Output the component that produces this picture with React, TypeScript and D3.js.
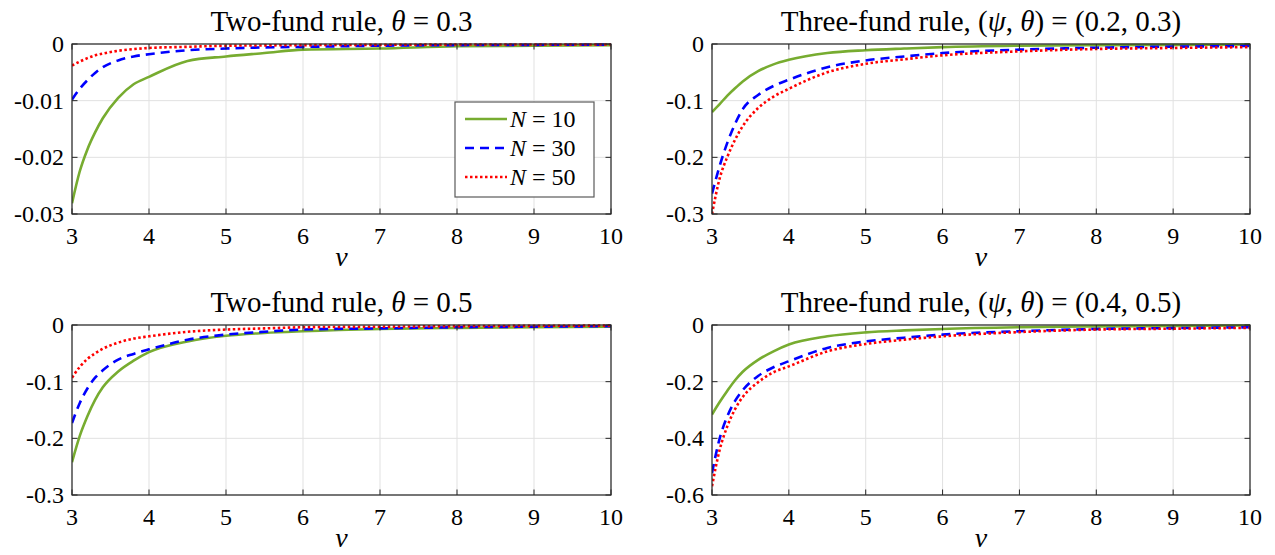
import * as d3 from "d3";

// shared x grid (nu) and tick values
const nu = [3, 3.1, 3.2, 3.3, 3.4, 3.6, 3.8, 4, 4.5, 5, 5.5, 6, 7, 8, 9, 10];
const xTicks = [3, 4, 5, 6, 7, 8, 9, 10];
const legendLabels = ["10", "30", "50"];

// Two-fund rule, theta = 0.3
const two03N10 = [-0.0281, -0.0225, -0.0186, -0.0156, -0.0131, -0.0095, -0.0071, -0.0058, -0.003, -0.0022, -0.0016, -0.001, -0.0008, -0.0004, -0.0003, -0.0002];
const two03N30 = [-0.0098, -0.0079, -0.0064, -0.0051, -0.0041, -0.0029, -0.0022, -0.0018, -0.0011, -0.0008, -0.0006, -0.0005, -0.0003, -0.0002, -0.00015, -0.0001];
const two03N50 = [-0.0038, -0.0031, -0.0025, -0.002, -0.0017, -0.0012, -0.0009, -0.0007, -0.0005, -0.0003, -0.00025, -0.0002, -0.00015, -0.0001, -0.0001, -0.0001];
const two03Ticks = [0, -0.01, -0.02, -0.03];
const two03Labels = ["0", "-0.01", "-0.02", "-0.03"];

// Three-fund rule, (psi, theta) = (0.2, 0.3)
const three03N10 = [-0.12, -0.106, -0.091, -0.078, -0.066, -0.048, -0.036, -0.028, -0.016, -0.011, -0.008, -0.0055, -0.003, -0.002, -0.0015, -0.001];
const three03N30 = [-0.264, -0.215, -0.174, -0.141, -0.115, -0.09, -0.074, -0.063, -0.041, -0.029, -0.022, -0.016, -0.01, -0.0065, -0.0047, -0.0035];
const three03N50 = [-0.3, -0.237, -0.199, -0.169, -0.145, -0.113, -0.093, -0.079, -0.05, -0.035, -0.027, -0.02, -0.013, -0.0088, -0.007, -0.0055];
const three03Ticks = [0, -0.1, -0.2, -0.3];
const three03Labels = ["0", "-0.1", "-0.2", "-0.3"];

// Two-fund rule, theta = 0.5
const two05N10 = [-0.242, -0.196, -0.161, -0.132, -0.11, -0.082, -0.063, -0.048, -0.029, -0.019, -0.014, -0.011, -0.007, -0.005, -0.004, -0.003];
const two05N30 = [-0.173, -0.138, -0.112, -0.093, -0.08, -0.061, -0.051, -0.043, -0.026, -0.017, -0.012, -0.008, -0.006, -0.004, -0.003, -0.002];
const two05N50 = [-0.093, -0.074, -0.06, -0.05, -0.042, -0.031, -0.024, -0.02, -0.012, -0.008, -0.006, -0.004, -0.003, -0.002, -0.0015, -0.001];
const two05Ticks = [0, -0.1, -0.2, -0.3];
const two05Labels = ["0", "-0.1", "-0.2", "-0.3"];

// Three-fund rule, (psi, theta) = (0.4, 0.5)
const three05N10 = [-0.316, -0.272, -0.232, -0.195, -0.165, -0.123, -0.093, -0.069, -0.04, -0.026, -0.019, -0.014, -0.008, -0.005, -0.003, -0.002];
const three05N30 = [-0.522, -0.4, -0.322, -0.268, -0.23, -0.18, -0.149, -0.128, -0.081, -0.058, -0.045, -0.034, -0.022, -0.014, -0.011, -0.008];
const three05N50 = [-0.569, -0.44, -0.357, -0.297, -0.254, -0.202, -0.167, -0.146, -0.093, -0.067, -0.052, -0.04, -0.025, -0.016, -0.013, -0.01];
const three05Ticks = [0, -0.2, -0.4, -0.6];
const three05Labels = ["0", "-0.2", "-0.4", "-0.6"];

const FONT = "'Liberation Serif', 'Times New Roman', serif";
const styles = [
  { color: "#77AC30", dash: "none" },
  { color: "#0000FF", dash: "9,6" },
  { color: "#FF0000", dash: "2.5,2.5" },
];

type Seg = [string, boolean];

const panels = [
  {
    id: "tl", x0: 72, x1: 611, y0: 44, y1: 214,
    title: [["Two-fund rule, ", false], ["θ", true], [" = 0.3", false]] as Seg[],
    series: [two03N10, two03N30, two03N50], ticks: two03Ticks, labels: two03Labels, legend: true,
  },
  {
    id: "tr", x0: 712, x1: 1250, y0: 44, y1: 214,
    title: [["Three-fund rule, (", false], ["ψ", true], [", ", false], ["θ", true], [") = (0.2, 0.3)", false]] as Seg[],
    series: [three03N10, three03N30, three03N50], ticks: three03Ticks, labels: three03Labels, legend: false,
  },
  {
    id: "bl", x0: 72, x1: 611, y0: 325, y1: 495,
    title: [["Two-fund rule, ", false], ["θ", true], [" = 0.5", false]] as Seg[],
    series: [two05N10, two05N30, two05N50], ticks: two05Ticks, labels: two05Labels, legend: false,
  },
  {
    id: "br", x0: 712, x1: 1250, y0: 325, y1: 495,
    title: [["Three-fund rule, (", false], ["ψ", true], [", ", false], ["θ", true], [") = (0.4, 0.5)", false]] as Seg[],
    series: [three05N10, three05N30, three05N50], ticks: three05Ticks, labels: three05Labels, legend: false,
  },
];

function Panel({ p }: { p: (typeof panels)[number] }) {
  const x = d3.scaleLinear().domain([3, 10]).range([p.x0, p.x1]);
  const ticks = p.ticks;
  const y = d3.scaleLinear().domain([ticks[ticks.length - 1], 0]).range([p.y1, p.y0]);
  const line = d3
    .line<number>()
    .x((_, i) => x(nu[i]))
    .y((d) => y(d))
    .curve(d3.curveMonotoneX);
  const tk = 5.5;
  const axisColor = "#262626";
  const cx = (p.x0 + p.x1) / 2;

  return (
    <g>
      <defs>
        <clipPath id={`clip-${p.id}`}>
          <rect x={p.x0} y={p.y0 - 2} width={p.x1 - p.x0} height={p.y1 - p.y0 + 4} />
        </clipPath>
      </defs>
      <rect x={p.x0} y={p.y0} width={p.x1 - p.x0} height={p.y1 - p.y0} fill="#fff" />
      {/* grid */}
      {xTicks.map((t) => (
        <line key={`gx${t}`} x1={x(t)} x2={x(t)} y1={p.y0} y2={p.y1} stroke="#e1e1e1" strokeWidth={1} />
      ))}
      {ticks.map((t) => (
        <line key={`gy${t}`} x1={p.x0} x2={p.x1} y1={y(t)} y2={y(t)} stroke="#e1e1e1" strokeWidth={1} />
      ))}
      {/* series */}
      <g clipPath={`url(#clip-${p.id})`}>
        {p.series.map((s, i) => (
          <path
            key={i}
            d={line(s) ?? ""}
            fill="none"
            stroke={styles[i].color}
            strokeWidth={2.6}
            strokeDasharray={styles[i].dash}
          />
        ))}
      </g>
      {/* box and ticks */}
      <rect x={p.x0} y={p.y0} width={p.x1 - p.x0} height={p.y1 - p.y0} fill="none" stroke={axisColor} strokeWidth={1.2} />
      {xTicks.map((t) => (
        <g key={`tx${t}`} stroke={axisColor} strokeWidth={1}>
          <line x1={x(t)} x2={x(t)} y1={p.y1} y2={p.y1 - tk} />
          <line x1={x(t)} x2={x(t)} y1={p.y0} y2={p.y0 + tk} />
        </g>
      ))}
      {ticks.map((t) => (
        <g key={`ty${t}`} stroke={axisColor} strokeWidth={1}>
          <line x1={p.x0} x2={p.x0 + tk} y1={y(t)} y2={y(t)} />
          <line x1={p.x1} x2={p.x1 - tk} y1={y(t)} y2={y(t)} />
        </g>
      ))}
      {/* tick labels */}
      {xTicks.map((t) => (
        <text key={`lx${t}`} x={x(t)} y={p.y1 + 30} textAnchor="middle" fontSize={24} fontFamily={FONT} fill="#000">
          {t}
        </text>
      ))}
      {ticks.map((t, i) => (
        <text key={`ly${t}`} x={p.x0 - 8} y={y(t) + 8} textAnchor="end" fontSize={24} fontFamily={FONT} fill="#000">
          {p.labels[i]}
        </text>
      ))}
      {/* title */}
      <text x={cx} y={p.y0 - 13.5} textAnchor="middle" fontSize={29} fontFamily={FONT} fill="#000">
        {p.title.map(([s, it], i) => (
          <tspan key={i} fontStyle={it ? "italic" : "normal"}>
            {s}
          </tspan>
        ))}
      </text>
      {/* x label */}
      <text x={cx} y={p.y1 + 52} textAnchor="middle" fontSize={28} fontStyle="italic" fontFamily={FONT} fill="#000">
        ν
      </text>
      {p.legend && (
        <g>
          <rect x={455} y={102} width={139} height={95} fill="#fff" stroke="#5a5a5a" strokeWidth={1.2} />
          {legendLabels.map((lab, i) => {
            const ly = 119 + i * 29;
            return (
              <g key={lab}>
                <line x1={465} x2={507} y1={ly} y2={ly} stroke={styles[i].color} strokeWidth={2.6} strokeDasharray={styles[i].dash} />
                <text x={510} y={ly + 8} fontSize={24} fontFamily={FONT} fill="#000">
                  <tspan fontStyle="italic">N</tspan>
                  <tspan> = {lab}</tspan>
                </text>
              </g>
            );
          })}
        </g>
      )}
    </g>
  );
}

export default function App() {
  return (
    <svg
      width={1275}
      height={555}
      style={{ position: "absolute", left: 0, top: 0, background: "#fff" }}
    >
      <rect width={1275} height={555} fill="#fff" />
      {panels.map((p) => (
        <Panel key={p.id} p={p} />
      ))}
    </svg>
  );
}
